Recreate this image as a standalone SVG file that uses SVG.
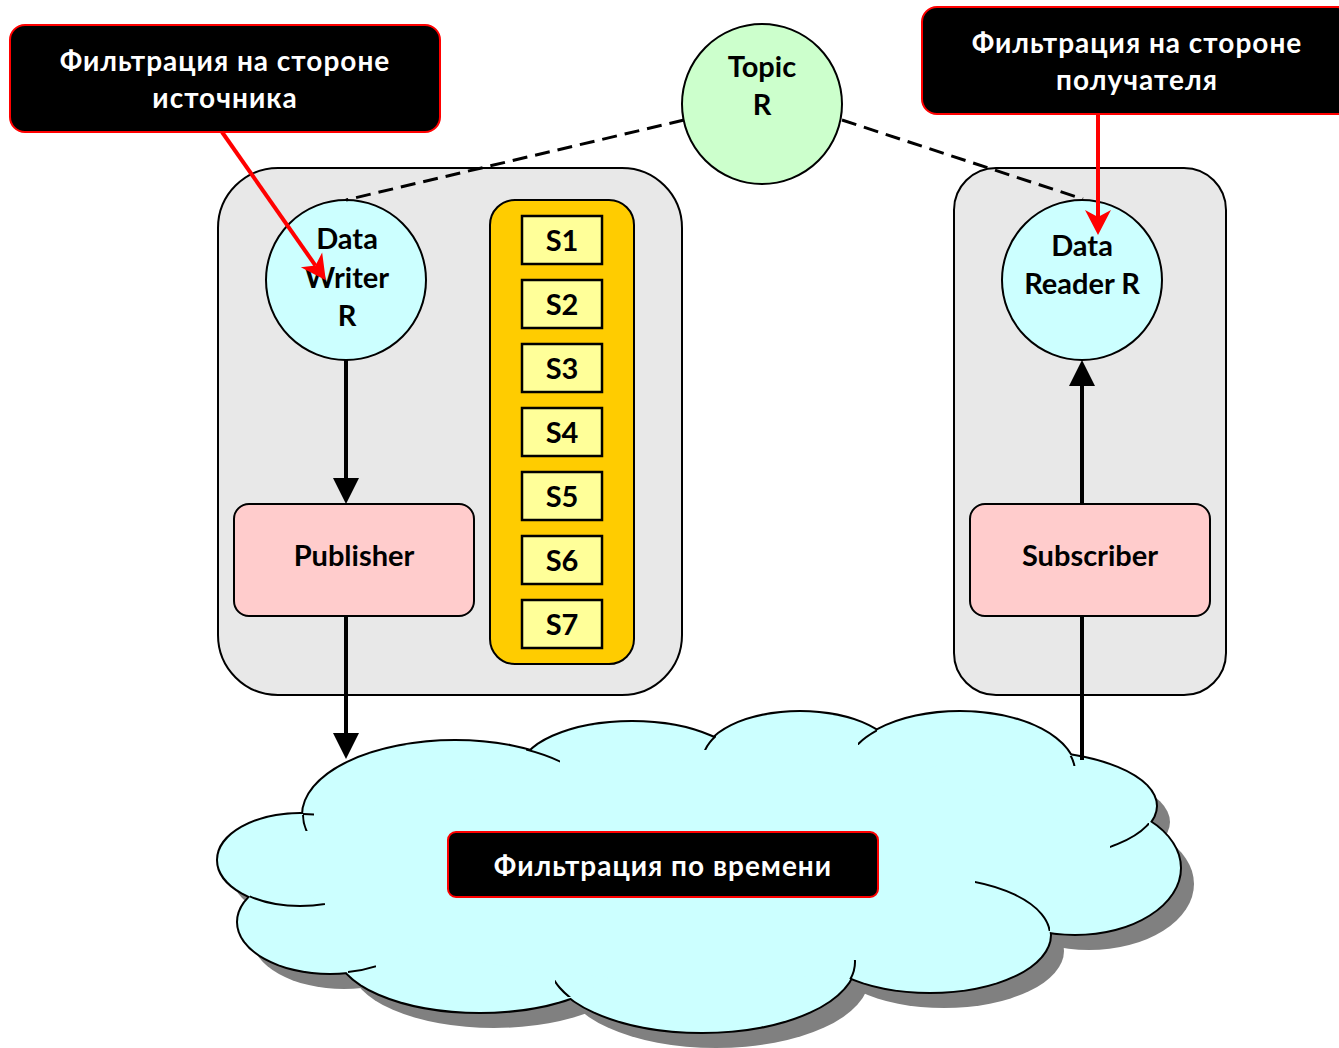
<svg xmlns="http://www.w3.org/2000/svg" xmlns:xlink="http://www.w3.org/1999/xlink" width="1339" height="1048" viewBox="0 0 1339 1048">
  <style>
    .txt { font-family: Lato, "Open Sans", "Liberation Sans", sans-serif; font-weight: bold; font-size: 29px; text-anchor: middle; fill: #000; }
    .wtxt { font-family: Lato, "Open Sans", "Liberation Sans", sans-serif; font-weight: bold; font-size: 28px; letter-spacing: 1px; text-anchor: middle; fill: #fff; }
    .container { fill: #e8e8e8; stroke: #000; stroke-width: 2; }
    .entity { fill: #ccffff; stroke: #000; stroke-width: 2; }
    .topic { fill: #ccffcc; stroke: #000; stroke-width: 2; }
    .pubsub { fill: #ffcccc; stroke: #000; stroke-width: 2; }
    .sample { fill: #ffff99; stroke: #000; stroke-width: 2.5; }
    .callout { fill: #000; stroke: #ff0000; stroke-width: 2; }
    .flow { stroke: #000; stroke-width: 4; fill: none; }
    .dash { stroke: #000; stroke-width: 3; fill: none; stroke-dasharray: 15 8; }
    .hint { stroke: #ff0000; stroke-width: 4; fill: none; }
    .stub { fill: none; stroke: #000; stroke-width: 2; }
  </style>
  <defs>
    <marker id="arrow" markerUnits="userSpaceOnUse" markerWidth="26" markerHeight="26" refX="0" refY="13" orient="auto" overflow="visible">
      <path d="M0,0 L26,13 L0,26 Z" fill="#000"/>
    </marker>
    <marker id="stealth" markerUnits="userSpaceOnUse" markerWidth="25" markerHeight="26" refX="7" refY="13" orient="auto" overflow="visible">
      <path d="M0,0 L25,13 L0,26 L7,13 Z" fill="#ff0000"/>
    </marker>
    <!-- cloud built from overlapping lobes -->
    <g id="cloudLobes">
      <ellipse id="lobe1" cx="455" cy="815" rx="152" ry="74"/>
      <ellipse id="lobe2" cx="632" cy="772" rx="112" ry="50"/>
      <ellipse id="lobe3" cx="800" cy="760" rx="97" ry="48"/>
      <ellipse id="lobe4" cx="960" cy="772" rx="115" ry="60"/>
      <ellipse id="lobe5" cx="1024" cy="806" rx="132" ry="54"/>
      <ellipse id="lobe6" cx="1075" cy="868" rx="105" ry="66"/>
      <ellipse id="lobe7" cx="930" cy="935" rx="120" ry="57"/>
      <ellipse id="lobe8" cx="702" cy="962" rx="153" ry="70"/>
      <ellipse id="lobe9" cx="480" cy="950" rx="143" ry="62"/>
      <ellipse id="lobe10" cx="330" cy="922" rx="92" ry="51"/>
      <ellipse id="lobe11" cx="300" cy="860" rx="82" ry="46"/>
      <ellipse cx="700" cy="870" rx="400" ry="110"/>
    </g>
    <clipPath id="s1"><rect x="298" y="815" width="14" height="16"/></clipPath>
    <clipPath id="s1b"><rect x="303" y="808" width="11" height="12"/></clipPath>
    <clipPath id="s2"><rect x="526" y="738" width="34" height="26"/></clipPath>
    <clipPath id="s3"><rect x="700" y="736" width="16" height="14"/></clipPath>
    <clipPath id="s4"><rect x="858" y="729" width="19" height="16"/></clipPath>
    <clipPath id="s5"><rect x="1068" y="756" width="12" height="10"/></clipPath>
    <clipPath id="s6"><rect x="1110" y="823" width="39" height="27"/></clipPath>
    <clipPath id="s7"><rect x="975" y="876" width="75" height="55"/></clipPath>
    <clipPath id="s8"><rect x="849" y="960" width="11" height="19"/></clipPath>
    <clipPath id="s9"><rect x="555" y="980" width="16" height="17"/></clipPath>
    <clipPath id="s10"><rect x="348" y="960" width="28" height="15"/></clipPath>
    <clipPath id="s11"><rect x="250" y="895" width="75" height="17"/></clipPath>
  </defs>

  <rect width="1339" height="1048" fill="#fff"/>

  <!-- network cloud -->
  <g id="network">
    <use xlink:href="#cloudLobes" transform="translate(14,16)" fill="#808080"/>
    <use xlink:href="#cloudLobes" fill="#ccffff" stroke="#000" stroke-width="4"/>
    <use xlink:href="#cloudLobes" fill="#ccffff"/>
    <use xlink:href="#lobe1" class="stub" clip-path="url(#s1)"/>
    <use xlink:href="#lobe11" class="stub" clip-path="url(#s1b)"/>
    <use xlink:href="#lobe1" class="stub" clip-path="url(#s2)"/>
    <use xlink:href="#lobe3" class="stub" clip-path="url(#s3)"/>
    <use xlink:href="#lobe4" class="stub" clip-path="url(#s4)"/>
    <use xlink:href="#lobe4" class="stub" clip-path="url(#s5)"/>
    <use xlink:href="#lobe5" class="stub" clip-path="url(#s6)"/>
    <use xlink:href="#lobe7" class="stub" clip-path="url(#s7)"/>
    <use xlink:href="#lobe8" class="stub" clip-path="url(#s8)"/>
    <use xlink:href="#lobe8" class="stub" clip-path="url(#s9)"/>
    <use xlink:href="#lobe10" class="stub" clip-path="url(#s10)"/>
    <use xlink:href="#lobe11" class="stub" clip-path="url(#s11)"/>
  </g>

  <g id="time-filter">
    <rect class="callout" x="448" y="832" width="430" height="65" rx="8"/>
    <text class="wtxt" x="663" y="876">Фильтрация по времени</text>
  </g>

  <!-- participants -->
  <g id="writer-side">
    <rect class="container" x="218" y="168" width="464" height="527" rx="60"/>
  </g>
  <g id="reader-side">
    <rect class="container" x="954" y="168" width="272" height="527" rx="42"/>
  </g>

  <g id="topic">
    <circle class="topic" cx="762" cy="104" r="80"/>
    <text class="txt" x="762" y="77">Topic</text>
    <text class="txt" x="762" y="115">R</text>
  </g>

  <g id="data-writer">
    <circle class="entity" cx="346" cy="280" r="80"/>
    <text class="txt" x="347" y="249">Data</text>
    <text class="txt" x="347" y="288">Writer</text>
    <text class="txt" x="347" y="326">R</text>
  </g>

  <g id="data-reader">
    <circle class="entity" cx="1082" cy="280" r="80"/>
    <text class="txt" x="1082" y="256">Data</text>
    <text class="txt" x="1082" y="294">Reader R</text>
  </g>

  <g id="publisher">
    <rect class="pubsub" x="234" y="504" width="240" height="112" rx="15"/>
    <text class="txt" x="354" y="566">Publisher</text>
  </g>

  <g id="subscriber">
    <rect class="pubsub" x="970" y="504" width="240" height="112" rx="15"/>
    <text class="txt" x="1090" y="566">Subscriber</text>
  </g>

  <g id="history">
    <rect x="490" y="200" width="144" height="464" rx="25" fill="#ffcc00" stroke="#000" stroke-width="2"/>
    <g id="s-1"><rect class="sample" x="522" y="216" width="80" height="48"/><text class="txt" x="562" y="250.5">S1</text></g>
    <g id="s-2"><rect class="sample" x="522" y="280" width="80" height="48"/><text class="txt" x="562" y="314.5">S2</text></g>
    <g id="s-3"><rect class="sample" x="522" y="344" width="80" height="48"/><text class="txt" x="562" y="378.5">S3</text></g>
    <g id="s-4"><rect class="sample" x="522" y="408" width="80" height="48"/><text class="txt" x="562" y="442.5">S4</text></g>
    <g id="s-5"><rect class="sample" x="522" y="472" width="80" height="48"/><text class="txt" x="562" y="506.5">S5</text></g>
    <g id="s-6"><rect class="sample" x="522" y="536" width="80" height="48"/><text class="txt" x="562" y="570.5">S6</text></g>
    <g id="s-7"><rect class="sample" x="522" y="600" width="80" height="48"/><text class="txt" x="562" y="634.5">S7</text></g>
  </g>

  <g id="source-filter">
    <rect class="callout" x="10" y="25" width="430" height="107" rx="15"/>
    <text class="wtxt" x="225" y="71">Фильтрация на стороне</text>
    <text class="wtxt" x="225" y="108">источника</text>
  </g>

  <g id="reader-filter">
    <rect class="callout" x="922" y="7" width="430" height="107" rx="15"/>
    <text class="wtxt" x="1137" y="53">Фильтрация на стороне</text>
    <text class="wtxt" x="1137" y="90">получателя</text>
  </g>

  <!-- connectors -->
  <g id="connectors">
    <line class="dash" x1="684" y1="120" x2="346" y2="200"/>
    <line class="dash" x1="842" y1="120" x2="1083" y2="199"/>
    <line class="flow" x1="346" y1="360" x2="346" y2="478" marker-end="url(#arrow)"/>
    <line class="flow" x1="346" y1="616" x2="346" y2="733" marker-end="url(#arrow)"/>
    <line class="flow" x1="1082" y1="504" x2="1082" y2="386" marker-end="url(#arrow)"/>
    <line class="flow" x1="1082" y1="760" x2="1082" y2="616"/>
    <line class="hint" x1="222" y1="132" x2="315.5" y2="265.6" marker-end="url(#stealth)"/>
    <line class="hint" x1="1098" y1="114" x2="1098" y2="217" marker-end="url(#stealth)"/>
  </g>
</svg>
